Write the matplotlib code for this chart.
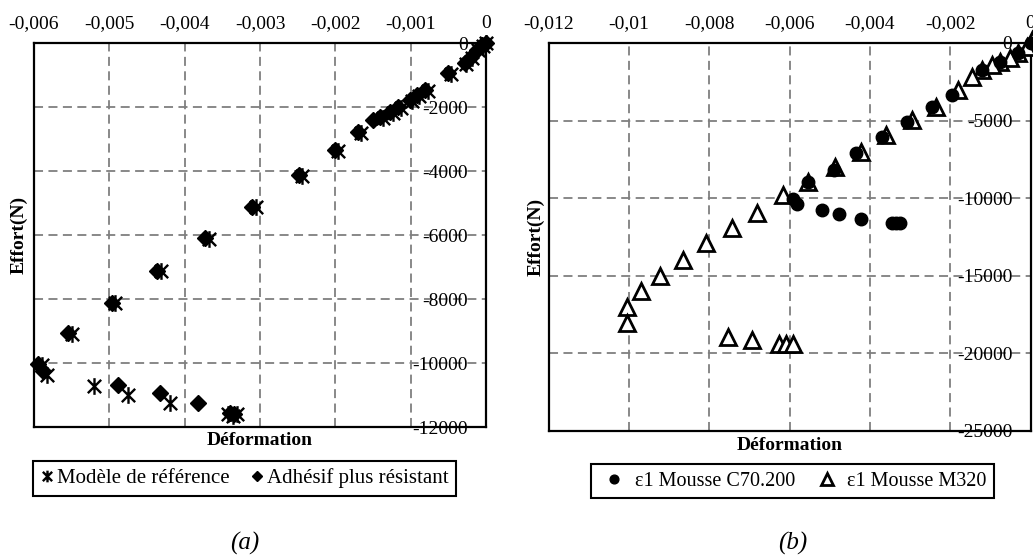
import matplotlib
matplotlib.use("Agg")
import matplotlib.pyplot as plt
from matplotlib.path import Path
from matplotlib.ticker import MultipleLocator, FuncFormatter

plt.rcParams['font.family'] = ['Liberation Serif', 'DejaVu Serif']

# (a) modèle de référence / adhésif plus résistant
ref_x = [0.0, -0.00004, -0.00010, -0.00019, -0.00026, -0.00046, -0.00077, -0.00089, -0.00098,
         -0.00113, -0.00123, -0.00137, -0.00166, -0.00196, -0.00244, -0.00305, -0.00368, -0.00432,
         -0.00492, -0.00550, -0.00590, -0.00583, -0.00520, -0.00475, -0.00420, -0.00342, -0.00336,
         -0.00330]
ref_y = [0, -90, -230, -480, -640, -960, -1490, -1650, -1800, -2030, -2180, -2340, -2820, -3360,
         -4140, -5130, -6120, -7110, -8120, -9080, -10050, -10380, -10720, -11000, -11260, -11600,
         -11640, -11600]
adh_x = [0.0, -0.00005, -0.00012, -0.00021, -0.00028, -0.00050, -0.00081, -0.00092, -0.00101,
         -0.00117, -0.00127, -0.00141, -0.00150, -0.00170, -0.00200, -0.00248, -0.00310, -0.00373,
         -0.00437, -0.00497, -0.00555, -0.00595, -0.00588, -0.00489, -0.00433, -0.00382, -0.00340,
         -0.00335]
adh_y = [0, -60, -220, -470, -620, -940, -1470, -1620, -1780, -2000, -2160, -2310, -2400, -2780,
         -3340, -4120, -5120, -6100, -7110, -8110, -9070, -10020, -10250, -10690, -10940, -11250,
         -11560, -11580]

# (b) mousses C70.200 / M320
c70_x = [0.0, -0.00031, -0.00076, -0.00121, -0.00196, -0.00245, -0.00308, -0.00371, -0.00435,
         -0.00490, -0.00553, -0.00591, -0.00581, -0.00520, -0.00477, -0.00421, -0.00346, -0.00335,
         -0.00325]
c70_y = [0, -650, -1200, -1740, -3350, -4100, -5070, -6040, -7110, -8180, -8940, -10070, -10370,
         -10760, -11020, -11340, -11620, -11620, -11600]
m320_x = [0.00003, -0.00009, -0.00031, -0.00051, -0.00076, -0.00096, -0.00121, -0.00146, -0.00180,
          -0.00236, -0.00295, -0.00359, -0.00422, -0.00486, -0.00553, -0.00617, -0.00680, -0.00743,
          -0.00807, -0.00866, -0.00922, -0.00971, -0.01005, -0.01005, -0.00752, -0.00693, -0.00625,
          -0.00608, -0.00591]
m320_y = [190, -240, -650, -970, -1200, -1420, -1740, -2170, -3030, -4100, -4960, -5930, -7000,
          -7970, -8940, -9790, -10970, -11940, -12910, -13980, -15010, -15960, -16990, -18020,
          -18920, -19130, -19390, -19390, -19390]

# marqueur étoile type Excel (X + barre verticale)
star = Path([(-1, -1), (1, 1), (-1, 1), (1, -1), (0, -1.25), (0, 1.25)],
            [Path.MOVETO, Path.LINETO, Path.MOVETO, Path.LINETO, Path.MOVETO, Path.LINETO])


def fmt_x(v, pos):
    s = f'{round(v, 6):g}'
    if s == '-0':
        s = '0'
    return s.replace('.', ',')


def fmt_y(v, pos):
    s = f'{v:.0f}'
    return '0' if s == '-0' else s


def style(ax, xlim, ylim, xstep, ystep):
    ax.set_xlim(xlim)
    ax.set_ylim(ylim)
    ax.xaxis.set_major_locator(MultipleLocator(xstep))
    ax.yaxis.set_major_locator(MultipleLocator(ystep))
    ax.xaxis.set_major_formatter(FuncFormatter(fmt_x))
    ax.yaxis.set_major_formatter(FuncFormatter(fmt_y))
    ax.xaxis.tick_top()
    ax.yaxis.tick_right()
    ax.tick_params(axis='x', length=0, pad=8, labelsize=14)
    ax.tick_params(axis='y', length=0, pad=-13, labelsize=14)
    plt.setp(ax.get_yticklabels(), ha='right')
    ax.grid(True, color='#7f7f7f', linestyle=(0, (5, 3)), linewidth=1.3)
    ax.set_axisbelow(True)
    for sp in ax.spines.values():
        sp.set_linewidth(1.6)
        sp.set_color('black')


fig = plt.figure(figsize=(10.33, 5.59), dpi=100)

ax1 = fig.add_axes([0.0329, 0.2361, 0.4376, 0.6869])
ax1.plot(ref_x, ref_y, linestyle='none', marker=star, markersize=12, markeredgewidth=1.7,
         color='black', clip_on=False, label='Modèle de référence')
ax1.plot(adh_x, adh_y, linestyle='none', marker='D', markersize=8, color='black',
         clip_on=False, label='Adhésif plus résistant')
style(ax1, (-0.006, 0), (-12000, 0), 0.001, 2000)
ax1.set_xlabel('Déformation', fontsize=14, fontweight='bold')
ax1.set_ylabel('Effort(N)', fontsize=14, fontweight='bold')
ax1.xaxis.set_label_coords(0.5, -0.013)
ax1.yaxis.set_label_coords(-0.013, 0.5)
leg1 = ax1.legend(loc='center', bbox_to_anchor=(0.466, -0.134), ncol=2, fontsize=15,
                  frameon=True, fancybox=False, edgecolor='black', framealpha=1,
                  handlelength=0.6, handletextpad=0.2, columnspacing=1.0, borderpad=0.35,
                  markerscale=0.7)
leg1.get_frame().set_linewidth(1.5)

ax2 = fig.add_axes([0.531, 0.229, 0.4666, 0.6941])
ax2.plot(c70_x, c70_y, linestyle='none', marker='o', markersize=9, color='black',
         clip_on=False, zorder=4, label='ε1 Mousse C70.200')
ax2.plot(m320_x, m320_y, linestyle='none', marker='^', markersize=12, markerfacecolor='white',
         markeredgecolor='black', markeredgewidth=2, clip_on=False, zorder=3,
         label='ε1 Mousse M320')
style(ax2, (-0.012, 0), (-25000, 0), 0.002, 5000)
ax2.set_xlabel('Déformation', fontsize=14, fontweight='bold')
ax2.set_ylabel('Effort(N)', fontsize=14, fontweight='bold')
ax2.xaxis.set_label_coords(0.5, -0.0155)
ax2.yaxis.set_label_coords(-0.009, 0.5)
leg2 = ax2.legend(loc='center', bbox_to_anchor=(0.506, -0.129), ncol=2, fontsize=14.5,
                  frameon=True, fancybox=False, edgecolor='black', framealpha=1,
                  handlelength=1.6, handletextpad=0.2, columnspacing=0.8, borderpad=0.35,
                  markerscale=0.7)
leg2.get_frame().set_linewidth(1.5)

fig.text(245 / 1033, 1 - 543 / 559, '(a)', style='italic', fontsize=18, ha='center', va='center')
fig.text(793 / 1033, 1 - 543 / 559, '(b)', style='italic', fontsize=18, ha='center', va='center')

fig.savefig('out.png', dpi=100)
